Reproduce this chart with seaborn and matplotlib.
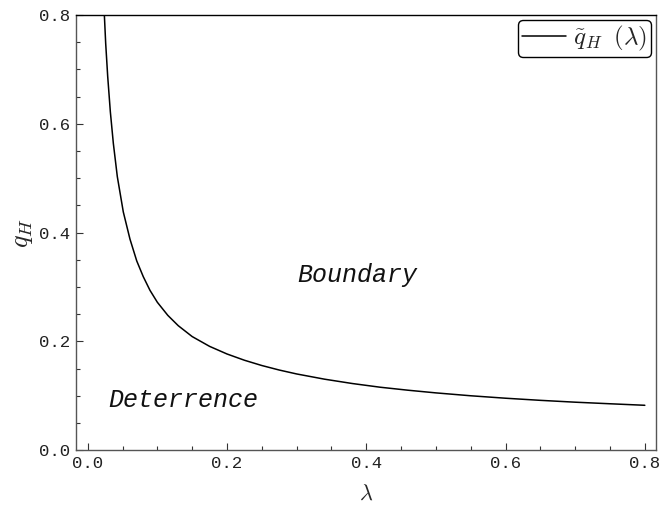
import matplotlib
matplotlib.use("Agg")
import matplotlib.pyplot as plt
import seaborn as sns
import pandas as pd
from matplotlib.ticker import MultipleLocator

lam = [0.0239, 0.0258, 0.0287, 0.0325, 0.0368, 0.0425, 0.0511, 0.0607, 0.0704,
       0.0798, 0.0894, 0.100, 0.115, 0.130, 0.150, 0.175, 0.200, 0.225,
       0.250, 0.275, 0.300, 0.340, 0.380, 0.420, 0.460, 0.500, 0.550,
       0.600, 0.650, 0.700, 0.750, 0.800]
q_h = [0.800, 0.748, 0.687, 0.622, 0.564, 0.503, 0.438, 0.388, 0.348,
       0.319, 0.294, 0.272, 0.248, 0.229, 0.209, 0.191, 0.177, 0.1655,
       0.1558, 0.1475, 0.1403, 0.1307, 0.1227, 0.1159, 0.1104, 0.1055, 0.1002,
       0.0957, 0.0918, 0.0884, 0.0855, 0.0827]
x_ticks = [0.0, 0.2, 0.4, 0.6, 0.8]
y_ticks = [0.0, 0.2, 0.4, 0.6, 0.8]

df = pd.DataFrame({"lam": lam, "q": q_h})

sns.set_theme(style="white")
plt.rcParams["mathtext.fontset"] = "cm"
plt.rcParams["font.family"] = ["Liberation Mono", "DejaVu Sans"]

fig = plt.figure(figsize=(6.61, 5.08), dpi=100)
ax = fig.add_axes([0.115, 0.1136, 0.8774, 0.8569])

sns.lineplot(data=df, x="lam", y="q", ax=ax, color="black", linewidth=1.1,
             estimator=None, sort=False, label=r"$\tilde{q}_H\;\;(\lambda)$",
             solid_joinstyle="round")

ax.set_xlim(-0.0168, 0.816)
ax.set_ylim(0, 0.8)
ax.set_xticks(x_ticks)
ax.set_yticks(y_ticks)
ax.set_xticklabels([f"{v:.1f}" for v in x_ticks])
ax.set_yticklabels([f"{v:.1f}" for v in y_ticks])
ax.xaxis.set_minor_locator(MultipleLocator(0.05))
ax.yaxis.set_minor_locator(MultipleLocator(0.05))
ax.tick_params(axis="both", which="major", direction="in", length=5, width=0.8,
               color="#333333", labelsize=12.5, labelcolor="#222222", pad=4)
ax.tick_params(axis="both", which="minor", direction="in", length=3, width=0.8,
               color="#333333")
ax.tick_params(axis="x", which="both", bottom=True)
ax.tick_params(axis="y", which="both", left=True)

for side in ["left", "bottom", "right"]:
    ax.spines[side].set_color("#555555")
    ax.spines[side].set_linewidth(1.0)
ax.spines["top"].set_color("black")
ax.spines["top"].set_linewidth(1.0)

ax.set_xlabel(r"$\lambda$", fontsize=16, labelpad=9)
ax.set_ylabel(r"$q_H$", fontsize=19, labelpad=3)

ax.text(0.387, 0.322, "Boundary", fontsize=18, style="italic",
        ha="center", va="center", color="#111111")
ax.text(0.137, 0.0925, "Deterrence", fontsize=18, style="italic",
        ha="center", va="center", color="#111111")

leg = ax.legend(loc="upper right", fontsize=18, frameon=True, fancybox=True,
                handlelength=1.75, borderaxespad=0.2, borderpad=0.15,
                handletextpad=0.3)
leg.get_frame().set_edgecolor("black")
leg.get_frame().set_linewidth(1.0)
leg.get_frame().set_alpha(1)

fig.savefig("out.png", dpi=100)
